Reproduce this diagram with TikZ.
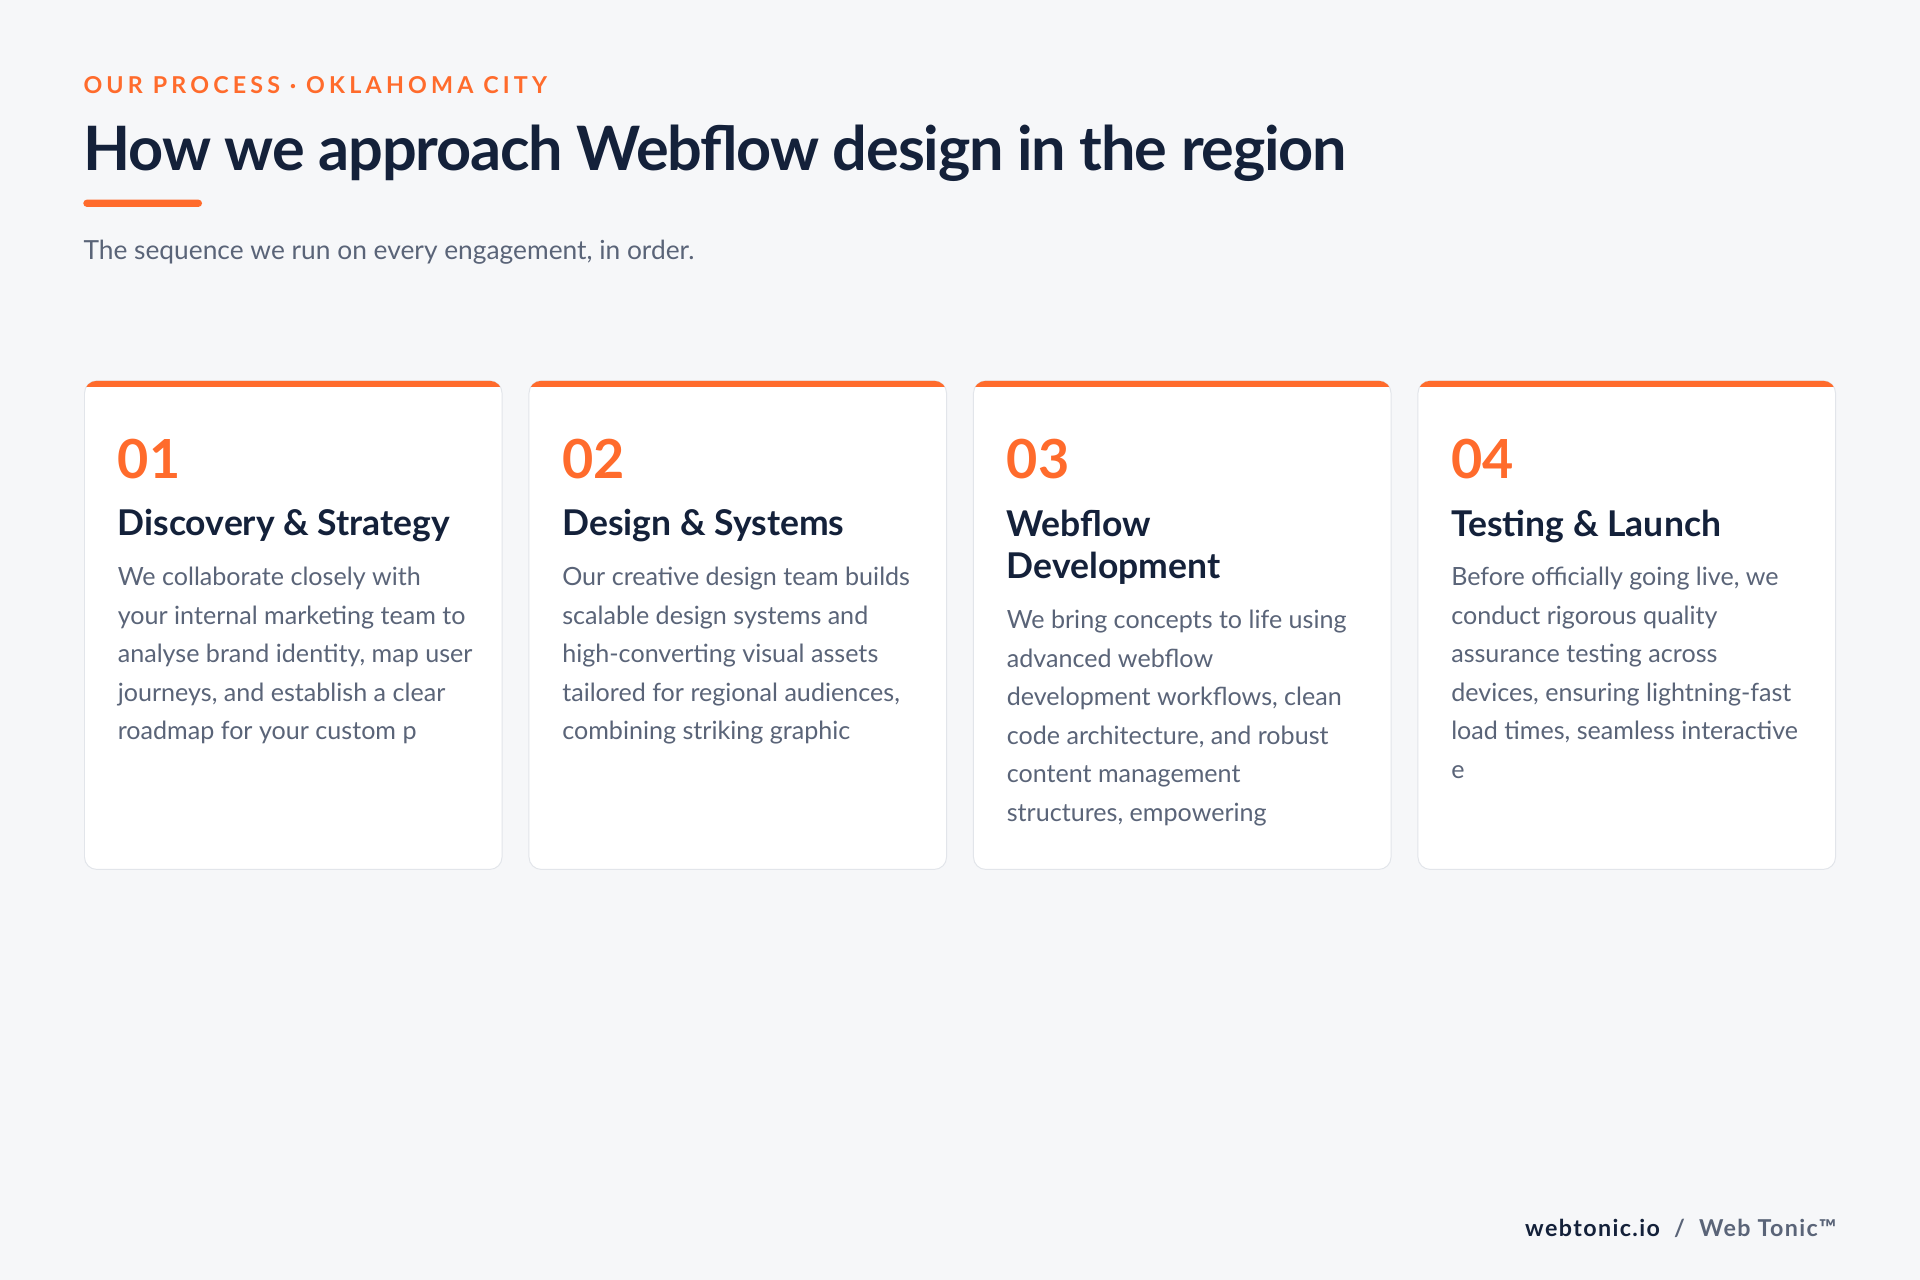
\documentclass[tikz,border=0pt]{standalone}
\usepackage{fontspec}
\setmainfont{Lato}
\usetikzlibrary{positioning}
\definecolor{pagebg}{HTML}{F6F7F9}
\definecolor{accent}{HTML}{FF6B2C}
\definecolor{navy}{HTML}{14213A}
\definecolor{slate}{HTML}{5A6478}
\definecolor{cardline}{HTML}{E2E5EA}
\tikzset{
    eyebrow/.style={anchor=base west, inner sep=0, text=accent,
        font=\fontsize{19}{19}\selectfont\addfontfeature{LetterSpace=18}\bfseries},
    headline/.style={anchor=base west, inner sep=0, text=navy,
        font=\fontsize{50}{50}\selectfont\bfseries\addfontfeature{LetterSpace=-2}},
    subline/.style={anchor=base west, inner sep=0, text=slate,
        font=\fontsize{21.5}{21.5}\selectfont},
    stepnum/.style={anchor=base west, inner sep=0, text=accent,
        font=\fontsize{44}{44}\selectfont\bfseries},
    steptitle/.style={anchor=north west, inner sep=0, text=navy, align=left,
        font=\fontsize{29}{35}\selectfont\bfseries},
    stepbody/.style={anchor=north west, inner sep=0, text=slate, align=left,
        font=\fontsize{20.5}{31.5}\selectfont},
    card/.style={fill=white, draw=cardline, line width=0.8pt, rounded corners=10pt},
}
\begin{document}
\begin{tikzpicture}[x=1pt, y=-1pt]
    \fill[pagebg] (0,0) rectangle (1568,1045);
    \useasboundingbox (0,0) rectangle (1568,1045);

    \node[eyebrow] (kicker) at (68,76) {OUR PROCESS · OKLAHOMA CITY};
    \node[headline] (title) at (68,139) {How we approach Webflow design in the region};
    \fill[accent, rounded corners=3pt] (68,163) rectangle (165,169);
    \node[subline] (lead) at (68,212) {The sequence we run on every engagement, in order.};

    % process cards
    \foreach \x/\num/\head/\body/\hh in {
        69/01/{Discovery \& Strategy}/{We collaborate closely with\\your internal marketing team to\\analyse brand identity, map user\\journeys, and establish a clear\\roadmap for your custom p}/0,
        432/02/{Design \& Systems}/{Our creative design team builds\\scalable design systems and\\high-converting visual assets\\tailored for regional audiences,\\combining striking graphic}/0,
        795/03/{Webflow\\Development}/{We bring concepts to life using\\advanced webflow\\development workflows, clean\\code architecture, and robust\\content management\\structures, empowering}/35,
        1158/04/{Testing \& Launch}/{Before officially going live, we\\conduct rigorous quality\\assurance testing across\\devices, ensuring lightning-fast\\load times, seamless interactive\\e}/0} {
        \begin{scope}
            \path[card] (\x,311) rectangle ++(341,399);
            \clip[rounded corners=10pt] (\x,311) rectangle ++(341,399);
            \fill[accent] (\x,308) rectangle ++(341,8);
        \end{scope}
        \node[stepnum] (num\num) at (\x+27,391) {\num};
        \node[steptitle] (head\num) at (\x+27,416) {\head};
        \node[stepbody] (body\num) at (\x+27,463+\hh) {\body};
    }

    \node[anchor=base east, inner sep=0,
        font=\fontsize{19}{19}\selectfont\bfseries\addfontfeature{LetterSpace=6}]
        (footer) at (1500,1010)
        {\textcolor{navy}{webtonic.io}\ \ \textcolor{slate}{/\ \ Web Tonic™}};
\end{tikzpicture}
\end{document}
